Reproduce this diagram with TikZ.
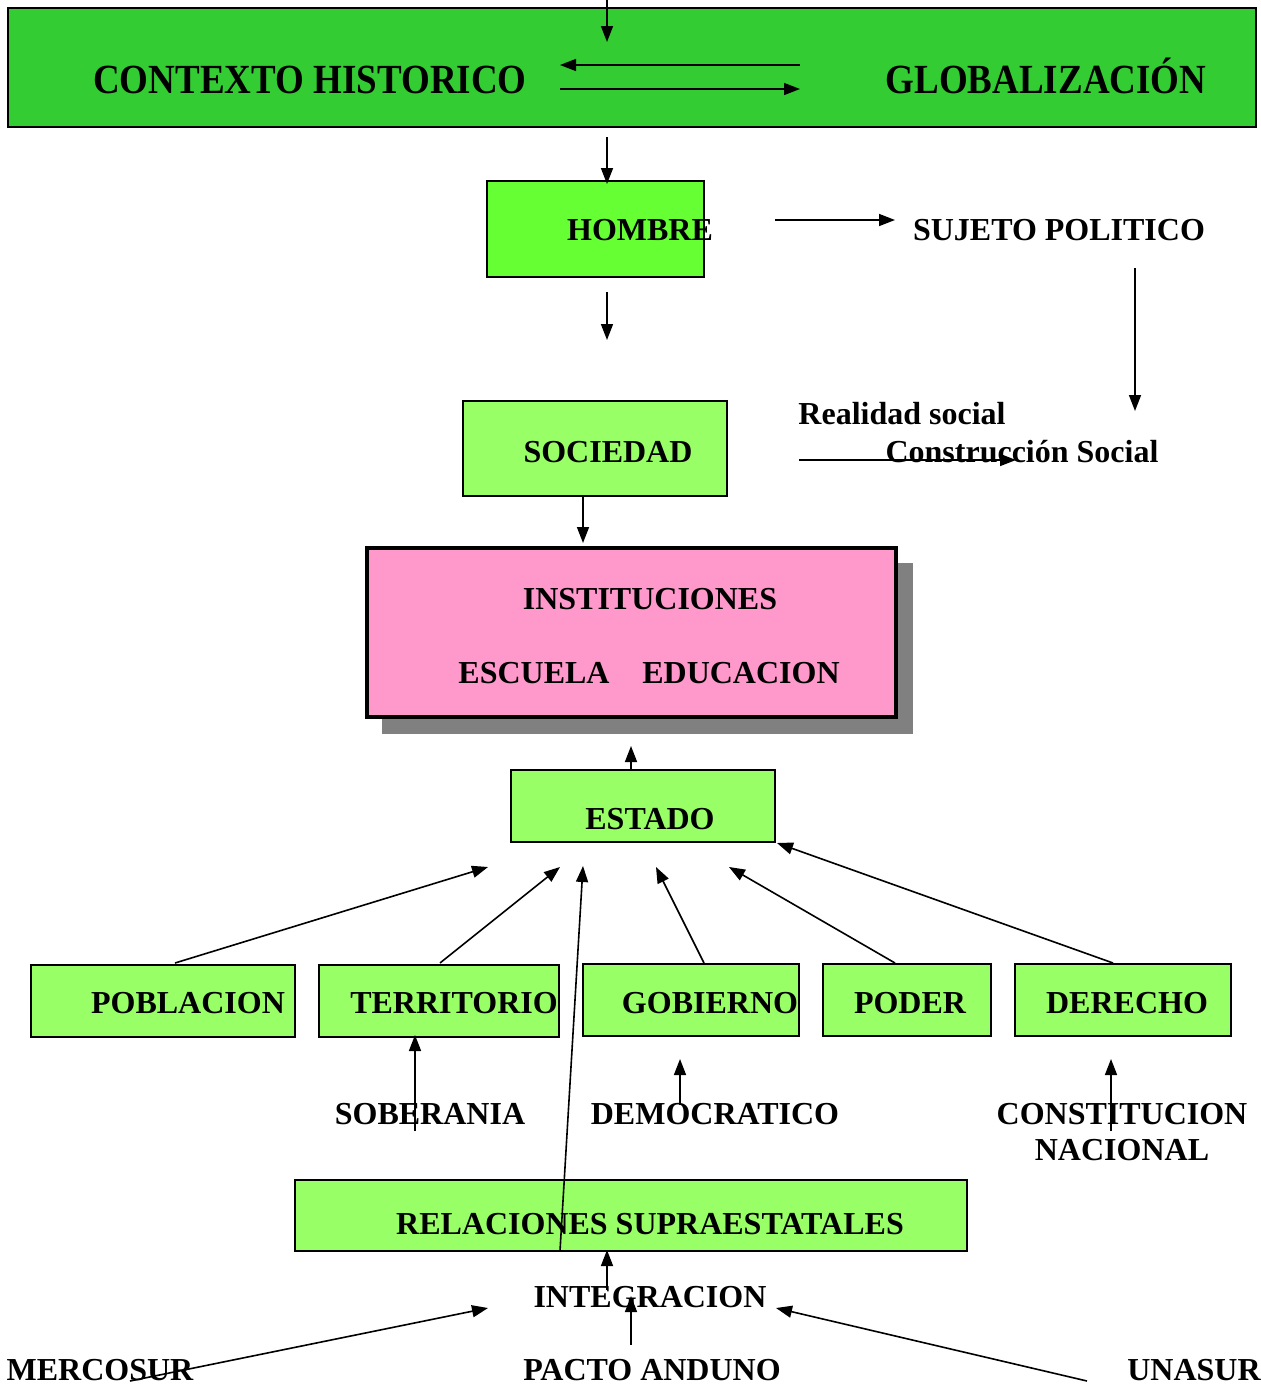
\documentclass[tikz,border=0pt]{standalone}
\usepackage{fontspec}
\setmainfont{Liberation Serif}
\usetikzlibrary{arrows.meta}
\definecolor{topgreen}{HTML}{33CC33}
\definecolor{brightgreen}{HTML}{66FF33}
\definecolor{lightgreen}{HTML}{99FF66}
\definecolor{pinkbox}{HTML}{FF99CC}
\definecolor{shadowgray}{HTML}{808080}
\begin{document}
\begin{tikzpicture}[x=1pt,y=-1pt,
  box/.style={draw=black,line width=1.8pt,inner sep=0pt,fill=lightgreen},
  lbl/.style={anchor=base,inner sep=0pt,font=\fontsize{32}{38}\selectfont\bfseries},
  biglbl/.style={anchor=base,inner sep=0pt,font=\fontsize{37}{44}\selectfont\bfseries},
  arr/.style={line width=1.6pt,-{Triangle[length=16pt,width=12pt]}},
  plain/.style={line width=1.5pt}]
\useasboundingbox (0,0) rectangle (1261,1385);
\fill[white] (0,0) rectangle (1261,1385);

% ---------- boxes ----------
\node[box,fill=topgreen,minimum width=1248pt,minimum height=119pt] (ctx) at (632,67.5) {};
\node[box,fill=brightgreen,minimum width=217pt,minimum height=96pt] (hom) at (595.5,229) {};
\node[box,minimum width=264pt,minimum height=95pt] (soc) at (595,448.5) {};
\fill[shadowgray] (382,563) rectangle (913,734);
\node[box,fill=pinkbox,line width=3.5pt,minimum width=529pt,minimum height=169pt] (inst) at (631.5,632.5) {};
\node[box,minimum width=264pt,minimum height=72pt] (est) at (643,806) {};
\node[box,minimum width=264pt,minimum height=72pt] (pob) at (163,1001) {};
\node[box,minimum width=240pt,minimum height=72pt] (ter) at (439,1001) {};
\node[box,minimum width=216pt,minimum height=72pt] (gob) at (691,1000) {};
\node[box,minimum width=168pt,minimum height=72pt] (pod) at (907,1000) {};
\node[box,minimum width=216pt,minimum height=72pt] (der) at (1123,1000) {};
\node[box,minimum width=672pt,minimum height=71pt] (rel) at (631,1215.5) {};

% ---------- texts ----------
\node[biglbl] (tctx) at (310,93) {\scalebox{1}[1.12]{CONTEXTO HISTORICO}};
\node[biglbl] (tglo) at (1046,93) {\scalebox{1}[1.12]{GLOBALIZACIÓN}};
\node[lbl] (thom) at (640,240) {HOMBRE};
\node[lbl] (tsuj) at (1059,240) {SUJETO POLITICO};
\node[lbl] (tsoc) at (608,462) {SOCIEDAD};
\node[lbl] (treal) at (902,424) {Realidad social};
\node[lbl] (tcons) at (1022,462) {Construcción Social};
\node[lbl] (tinst) at (650,609) {INSTITUCIONES};
\node[lbl] (tesc) at (534,683) {ESCUELA};
\node[lbl] (tedu) at (741,683) {EDUCACION};
\node[lbl] (test) at (650,829) {ESTADO};
\node[lbl] (tpob) at (188,1013) {POBLACION};
\node[lbl] (tter) at (454,1013) {TERRITORIO};
\node[lbl] (tgob) at (710,1013) {GOBIERNO};
\node[lbl] (tpod) at (910,1013) {PODER};
\node[lbl] (tder) at (1127,1013) {DERECHO};
\node[lbl] (tsob) at (430,1124) {SOBERANIA};
\node[lbl] (tdem) at (715,1124) {DEMOCRATICO};
\node[lbl] (tcon) at (1122,1124) {CONSTITUCION};
\node[lbl] (tnac) at (1122,1160) {NACIONAL};
\node[lbl] (trel) at (650,1234) {RELACIONES SUPRAESTATALES};
\node[lbl] (tint) at (650,1307) {INTEGRACION};
\node[lbl] (tmer) at (100,1380) {MERCOSUR};
\node[lbl] (tpac) at (652,1380) {PACTO ANDUNO};
\node[lbl] (tuna) at (1194,1380) {UNASUR};

% ---------- coordinates ----------
\coordinate (c1a) at (607,-2);   \coordinate (c1b) at (607,42);
\coordinate (c2a) at (800,65);   \coordinate (c2b) at (560,65);
\coordinate (c3a) at (560,89);   \coordinate (c3b) at (800,89);
\coordinate (c4a) at (607,137);  \coordinate (c4b) at (607,184);
\coordinate (c5a) at (775,220);  \coordinate (c5b) at (895,220);
\coordinate (c6a) at (1135,268); \coordinate (c6b) at (1135,411);
\coordinate (c7a) at (607,292);  \coordinate (c7b) at (607,340);
\coordinate (c8a) at (799,460);  \coordinate (c8b) at (1016,460);
\coordinate (c9a) at (583,496);  \coordinate (c9b) at (583,543);
\coordinate (c10a) at (631,770); \coordinate (c10b) at (631,746);
\coordinate (p1a) at (175,963);  \coordinate (p1b) at (488,867);
\coordinate (p2a) at (440,963);  \coordinate (p2b) at (560,867);
\coordinate (p3a) at (560,1251); \coordinate (p3b) at (583,866);
\coordinate (p4a) at (704,963);  \coordinate (p4b) at (656,867);
\coordinate (p5a) at (895,963);  \coordinate (p5b) at (729,867);
\coordinate (p6a) at (1113,963); \coordinate (p6b) at (777,843);
\coordinate (s1a) at (415,1131); \coordinate (s1b) at (415,1035);
\coordinate (s2a) at (680,1105); \coordinate (s2b) at (680,1059);
\coordinate (s3a) at (1111,1131);\coordinate (s3b) at (1111,1059);
\coordinate (r1a) at (607,1290); \coordinate (r1b) at (607,1250);
\coordinate (r2a) at (631,1345); \coordinate (r2b) at (631,1296);
\coordinate (m1a) at (130,1381); \coordinate (m1b) at (488,1308);
\coordinate (m2a) at (1087,1381);\coordinate (m2b) at (776,1308);

% ---------- connectors ----------
\draw[arr] (c1a) -- (c1b);
\draw[arr] (c2a) -- (c2b);
\draw[arr] (c3a) -- (c3b);
\draw[arr] (c4a) -- (c4b);
\draw[arr] (c5a) -- (c5b);
\draw[arr] (c6a) -- (c6b);
\draw[arr] (c7a) -- (c7b);
\draw[arr] (c8a) -- (c8b);
\draw[arr] (c9a) -- (c9b);
\draw[arr] (c10a) -- (c10b);
\draw[arr] (p1a) -- (p1b);
\draw[arr] (p2a) -- (p2b);
\draw[arr] (p3a) -- (p3b);
\draw[arr] (p4a) -- (p4b);
\draw[arr] (p5a) -- (p5b);
\draw[arr] (p6a) -- (p6b);
\draw[arr] (s1a) -- (s1b);
\draw[arr] (s2a) -- (s2b);
\draw[arr] (s3a) -- (s3b);
\draw[arr] (r1a) -- (r1b);
\draw[arr] (r2a) -- (r2b);
\draw[arr] (m1a) -- (m1b);
\draw[arr] (m2a) -- (m2b);
\end{tikzpicture}
\end{document}
